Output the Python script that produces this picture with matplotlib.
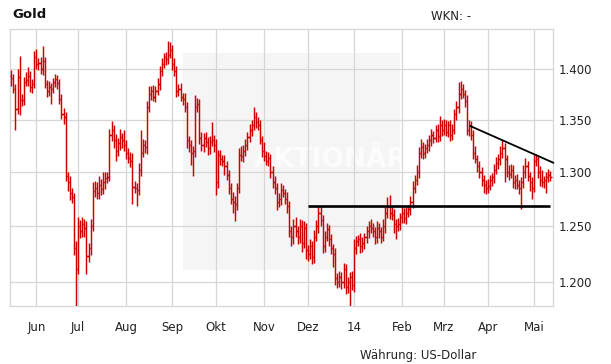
import matplotlib
matplotlib.use('Agg')
import matplotlib.pyplot as plt
import numpy as np
import pandas as pd
from matplotlib.patches import Rectangle
from matplotlib.ticker import FixedLocator, FuncFormatter, NullLocator

# Gold, daily closes in USD (one per weekday, starting 16 May 2013)
closes = [
    1391, 1380, 1360, 1392, 1369, 1369, 1387, 1389, 1393, 1382,
    1385, 1413, 1405, 1406, 1400, 1408, 1385, 1378, 1382, 1380,
    1387, 1390, 1386, 1370, 1355, 1352, 1296, 1290, 1280, 1276,
    1230, 1212, 1250, 1245, 1252, 1248, 1223, 1230, 1250, 1282,
    1285, 1280, 1288, 1284, 1290, 1294, 1295, 1335, 1340, 1330,
    1320, 1327, 1333, 1330, 1325, 1318, 1313, 1310, 1286, 1285,
    1283, 1302, 1318, 1325, 1323, 1362, 1375, 1378, 1372, 1378,
    1385, 1398, 1405, 1412, 1410, 1415, 1420, 1405, 1398, 1378,
    1380, 1372, 1370, 1362, 1330, 1325, 1318, 1320, 1362, 1365,
    1332, 1325, 1332, 1328, 1322, 1328, 1330, 1325, 1290, 1316,
    1312, 1310, 1305, 1297, 1285, 1275, 1272, 1270, 1285, 1316,
    1315, 1320, 1325, 1333, 1340, 1345, 1352, 1348, 1345, 1330,
    1320, 1315, 1310, 1313, 1300, 1290, 1285, 1272, 1275, 1283,
    1280, 1275, 1268, 1245, 1240, 1250, 1245, 1240, 1250, 1235,
    1248, 1228, 1225, 1232, 1222, 1240, 1250, 1262, 1255, 1232,
    1240, 1247, 1238, 1230, 1225, 1204, 1200, 1205, 1200, 1212,
    1196, 1200, 1205, 1198, 1230, 1236, 1238, 1232, 1235, 1240,
    1245, 1250, 1248, 1245, 1240, 1248, 1245, 1240, 1250, 1262,
    1268, 1262, 1260, 1252, 1250, 1252, 1258, 1262, 1257, 1262,
    1265, 1272, 1285, 1292, 1300, 1318, 1323, 1318, 1322, 1325,
    1330, 1335, 1332, 1340, 1334, 1345, 1340, 1345, 1338, 1345,
    1335, 1340, 1355, 1362, 1375, 1380, 1375, 1368, 1340, 1345,
    1335, 1318, 1312, 1305, 1300, 1292, 1288, 1285, 1287, 1292,
    1295, 1302, 1308, 1312, 1318, 1322, 1312, 1300, 1298, 1302,
    1290, 1292, 1288, 1285, 1290, 1300, 1305, 1296, 1290, 1285,
    1310, 1312, 1300, 1292, 1290, 1292, 1295, 1297, 1295,
]
first_open = 1393

# wick lengths above / below the open-close body, USD
up_wick = [
    6, 4, 5, 8, 22, 6, 5, 8, 9, 5,
    5, 6, 8, 5, 6, 16, 5, 4, 6, 4,
    4, 5, 4, 4, 5, 6, 5, 4, 6, 5,
    4, 6, 8, 5, 6, 4, 6, 5, 6, 8,
    6, 5, 8, 5, 10, 6, 5, 6, 9, 5,
    6, 5, 8, 4, 10, 5, 4, 6, 8, 5,
    4, 6, 22, 6, 5, 6, 8, 5, 6, 5,
    6, 5, 6, 5, 6, 14, 8, 5, 6, 5,
    5, 6, 4, 6, 5, 4, 5, 4, 12, 6,
    5, 6, 5, 6, 5, 6, 18, 5, 6, 5,
    5, 4, 6, 5, 5, 4, 6, 5, 4, 6,
    8, 5, 6, 5, 6, 5, 10, 5, 4, 5,
    4, 8, 5, 6, 4, 5, 6, 4, 5, 6,
    5, 4, 6, 5, 5, 6, 8, 5, 6, 5,
    6, 5, 5, 6, 4, 6, 5, 6, 6, 5,
    5, 6, 4, 5, 4, 5, 4, 5, 4, 5,
    4, 5, 4, 5, 8, 5, 4, 6, 5, 4,
    5, 4, 6, 5, 4, 6, 5, 4, 6, 5,
    8, 10, 6, 5, 4, 5, 4, 6, 4, 5,
    4, 5, 6, 5, 6, 5, 8, 5, 4, 6,
    5, 6, 4, 5, 6, 8, 5, 6, 5, 4,
    5, 6, 5, 6, 12, 8, 5, 4, 6, 5,
    4, 5, 6, 4, 5, 4, 5, 4, 6, 5,
    4, 5, 6, 5, 6, 8, 5, 4, 6, 5,
    4, 5, 6, 4, 5, 6, 8, 5, 4, 5,
    6, 5, 4, 5, 10, 4, 5, 6, 4,
]
down_wick = [
    8, 4, 20, 5, 15, 6, 5, 4, 6, 5,
    6, 4, 5, 6, 5, 6, 4, 6, 5, 15,
    4, 5, 6, 5, 4, 6, 5, 8, 6, 5,
    6, 36, 5, 6, 5, 8, 16, 5, 6, 5,
    6, 5, 5, 6, 5, 6, 5, 4, 6, 8,
    10, 5, 6, 8, 5, 6, 5, 6, 16, 5,
    15, 5, 6, 4, 5, 6, 5, 6, 4, 5,
    4, 6, 5, 4, 6, 5, 4, 6, 5, 6,
    5, 4, 6, 5, 8, 6, 12, 22, 6, 5,
    6, 5, 6, 5, 6, 5, 4, 6, 12, 5,
    6, 5, 8, 5, 6, 5, 10, 16, 6, 5,
    5, 6, 5, 4, 5, 6, 5, 6, 5, 4,
    6, 5, 4, 5, 6, 5, 6, 8, 5, 6,
    4, 5, 6, 5, 8, 6, 5, 6, 5, 8,
    5, 8, 6, 5, 6, 5, 4, 6, 5, 6,
    5, 4, 6, 5, 12, 6, 5, 4, 6, 5,
    6, 5, 24, 5, 6, 5, 4, 6, 5, 6,
    5, 6, 4, 5, 6, 5, 6, 5, 4, 6,
    5, 6, 5, 8, 12, 5, 6, 5, 4, 5,
    4, 5, 6, 5, 4, 6, 5, 6, 5, 4,
    5, 6, 5, 4, 6, 5, 6, 5, 4, 5,
    6, 5, 4, 5, 6, 5, 4, 6, 5, 6,
    5, 6, 4, 5, 6, 5, 8, 6, 5, 4,
    5, 6, 4, 5, 6, 5, 22, 5, 6, 4,
    5, 6, 4, 6, 20, 5, 6, 5, 8, 10,
    4, 5, 6, 5, 4, 5, 12, 5, 4,
]

month_labels = ['Jun', 'Jul', 'Aug', 'Sep', 'Okt', 'Nov', 'Dez', '14',
                'Feb', 'Mrz', 'Apr', 'Mai']
price_ticks = [1200, 1250, 1300, 1350, 1400]

# hand drawn lines (bar index, price)
support_x = [141.8, 257.8]
support_y = [1268.5, 1268.5]
resist_x = [219.8, 259.3]
resist_y = [1343.5, 1308.5]

red = '#cc0000'
grid_col = '#d6d6d6'

dates = pd.bdate_range('2013-05-16', periods=len(closes))
x = np.arange(len(closes))
c = np.array(closes, dtype=float)
o = np.r_[first_open, c[:-1]]
hi = np.maximum(o, c) + np.array(up_wick)
lo = np.minimum(o, c) - np.array(down_wick)

month_pos = [i for i in range(1, len(dates)) if dates[i].month != dates[i - 1].month]

fig = plt.figure(figsize=(6.11, 3.64), dpi=100)
ax = fig.add_axes([10 / 611, 58 / 364, 543 / 611, 277 / 364])

# watermark box
ax.add_patch(Rectangle((0.319, 0.13), 0.399, 0.783, transform=ax.transAxes,
                       facecolor='#f5f5f5', edgecolor='none', zorder=0))
ax.text(0.59, 0.527, 'AKTIONÄR', transform=ax.transAxes, ha='center', va='center',
        fontsize=19, fontweight='bold', color='white', alpha=0.7, zorder=0.5)

# OHLC bars
ax.vlines(x, lo, hi, color=red, lw=1.05, zorder=3)
ax.hlines(o, x - 0.55, x, color=red, lw=1.05, zorder=3)
ax.hlines(c, x, x + 0.55, color=red, lw=1.05, zorder=3)

ax.plot(support_x, support_y, color='black', lw=1.9, zorder=4, solid_capstyle='butt')
ax.plot(resist_x, resist_y, color='black', lw=1.3, zorder=4, clip_on=False)

ax.set_yscale('log')
ax.set_ylim(1179.6, 1441.4)
ax.set_xlim(-0.6, 259.2)

ax.yaxis.set_major_locator(FixedLocator(price_ticks))
ax.yaxis.set_minor_locator(NullLocator())
ax.yaxis.set_major_formatter(FuncFormatter(lambda v, p: f'{v:,.0f}'.replace(',', '.')))
ax.yaxis.tick_right()
ax.set_xticks(month_pos)
ax.set_xticklabels(month_labels)

ax.tick_params(axis='both', length=0, labelsize=8.5, colors='#222222')
ax.tick_params(axis='y', pad=4)
ax.tick_params(axis='x', pad=11)

ax.grid(True, color=grid_col, lw=0.9, zorder=1)
ax.set_axisbelow(True)
for s in ax.spines.values():
    s.set_color(grid_col)
    s.set_linewidth(0.9)

fig.text(12 / 611, 1 - 15 / 364, 'Gold', fontsize=9.5, fontweight='bold',
         va='center', ha='left', color='#111111')
fig.text(431 / 611, 1 - 17 / 364, 'WKN: -', fontsize=8.5, va='center', ha='left',
         color='#222222')
fig.text(360 / 611, 1 - 355 / 364, 'Währung: US-Dollar', fontsize=8.5, va='center',
         ha='left', color='#222222')

fig.savefig('out.png', dpi=100)
